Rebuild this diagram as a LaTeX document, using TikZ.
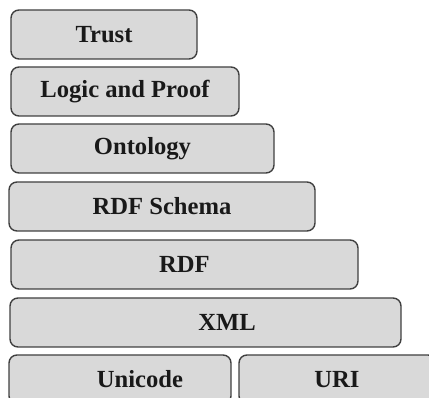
\documentclass[tikz,border=0pt]{standalone}
\usepackage{fontspec}
\setmainfont{Liberation Serif}
\begin{document}
\begin{tikzpicture}[x=1pt,y=-1pt,
  layer/.style={draw=black!75, line width=1.4pt, fill=black!15, rounded corners=8pt, inner sep=0pt},
  lbl/.style={font=\fontsize{24.6}{28}\selectfont\bfseries, inner sep=0pt, text=black!90}]
\useasboundingbox (0,0) rectangle (429,398);
\node[layer, lbl, minimum width=186pt, minimum height=49pt] (trust) at (104,34.5) {Trust};
\node[layer, lbl, minimum width=228pt, minimum height=49pt] (logic) at (125,91.5) {Logic and Proof};
\node[layer, lbl, minimum width=263pt, minimum height=49pt] (onto) at (142.5,148.5) {Ontology};
\node[layer, lbl, minimum width=306pt, minimum height=49pt] (rdfs) at (162,206.5) {RDF Schema};
\node[layer, lbl, minimum width=347pt, minimum height=49pt] (rdf) at (184.5,264.5) {RDF};
\node[layer, minimum width=391pt, minimum height=49pt] (xml) at (205.5,322.5) {};
\node[lbl] (xmlt) at (227,322.5) {XML};
\node[layer, minimum width=222pt, minimum height=49pt] (uni) at (120,379.5) {};
\node[lbl] (unit) at (140,379.5) {Unicode};
\node[layer, minimum width=197pt, minimum height=49pt] (uri) at (337.5,379.5) {};
\node[lbl] (urit) at (337,379.5) {URI};
\end{tikzpicture}
\end{document}
